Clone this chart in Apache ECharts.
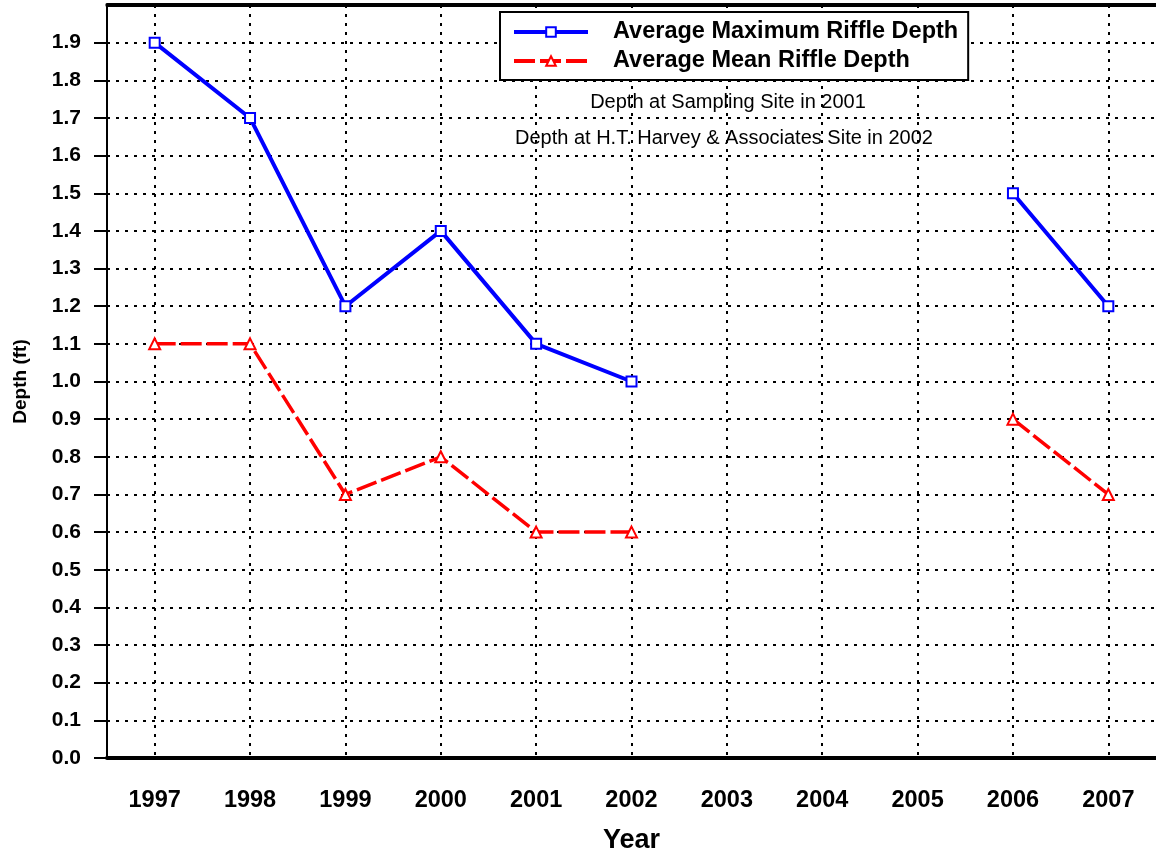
<!DOCTYPE html>
<html>
<head>
<meta charset="utf-8">
<script src="https://cdn.jsdelivr.net/npm/echarts@6/dist/echarts.min.js"></script>
<style>
    html, body { margin: 0; padding: 0; background: #fff; }
</style>
</head>
<body>
<div id="riffle-depth-chart" style="width: 1156px; height: 859px"></div>

<script type="text/javascript">
    // years on the x axis, 2003-2005 have no survey
    let years = ['1997', '1998', '1999', '2000', '2001', '2002', '2003', '2004', '2005', '2006', '2007'];
    let maxDepth = [1.9, 1.7, 1.2, 1.4, 1.1, 1.0, null, null, null, 1.5, 1.2];
    let meanDepth = [1.1, 1.1, 0.7, 0.8, 0.6, 0.6, null, null, null, 0.9, 0.7];
    let seriesNames = ['Average Maximum Riffle Depth', 'Average Mean Riffle Depth'];
    let notes = ['Depth at Sampling Site in 2001', 'Depth at H.T. Harvey & Associates Site in 2002'];

    let font = 'Arial, "Liberation Sans", sans-serif';
    let dotted = { color: '#000', width: 2, type: [3, 6] };

    let dom = document.getElementById('riffle-depth-chart');
    let depthChart = echarts.init(dom);
    let option = {
        animation: false,
        backgroundColor: '#fff',
        grid: {
            left: 107,
            top: 5,
            right: -3,
            bottom: 100
        },
        legend: {
            orient: 'vertical',
            left: 500,
            top: 12,
            padding: [8, 10, 7, 12],
            itemWidth: 74,
            itemHeight: 12,
            itemGap: 5,
            backgroundColor: '#fff',
            borderColor: '#000',
            borderWidth: 2,
            lineStyle: { width: 4 },
            textStyle: {
                fontFamily: font,
                fontWeight: 'bold',
                fontSize: 23.5,
                color: '#000',
                padding: [0, 0, 0, 20]
            },
            data: seriesNames
        },
        graphic: [
            {
                // the 2.0 tick is not drawn in the original
                type: 'rect',
                silent: true,
                shape: { x: 88, y: 0, width: 17.5, height: 9 },
                style: { fill: '#fff' },
                z: 100
            },
            {
                type: 'text',
                x: 728,
                y: 102,
                silent: true,
                style: { text: notes[0], font: '20px ' + font, fill: '#000', align: 'center', verticalAlign: 'middle' }
            },
            {
                type: 'text',
                x: 724,
                y: 138,
                silent: true,
                style: { text: notes[1], font: '20px ' + font, fill: '#000', align: 'center', verticalAlign: 'middle' }
            }
        ],
        xAxis: [
            {
                type: 'category',
                data: years,
                boundaryGap: true,
                name: 'Year',
                nameLocation: 'middle',
                nameGap: 69,
                nameTextStyle: { fontFamily: font, fontWeight: 'bold', fontSize: 27, color: '#000' },
                axisLine: { lineStyle: { color: '#000', width: 4 } },
                axisTick: { alignWithLabel: true, length: 13, lineStyle: { color: '#000', width: 2.5 } },
                axisLabel: { margin: 31, fontFamily: font, fontWeight: 'bold', fontSize: 23.5, color: '#000' },
                splitLine: { show: true, alignWithLabel: true, lineStyle: dotted }
            },
            {
                type: 'category',
                data: years,
                position: 'top',
                axisLine: { lineStyle: { color: '#000', width: 4 } },
                axisTick: { show: false },
                axisLabel: { show: false },
                splitLine: { show: false }
            }
        ],
        yAxis: {
            type: 'value',
            min: 0,
            max: 2.0,
            interval: 0.1,
            name: 'Depth (ft)',
            nameLocation: 'middle',
            nameGap: 77,
            nameTextStyle: { fontFamily: font, fontWeight: 'bold', fontSize: 19, color: '#000' },
            axisLine: { show: true, lineStyle: { color: '#000', width: 2 } },
            axisTick: { show: true, length: 13, lineStyle: { color: '#000', width: 2 } },
            axisLabel: {
                margin: 26,
                fontFamily: font,
                fontWeight: 'bold',
                fontSize: 21,
                color: '#000',
                formatter: function (v) {
                    return v > 1.95 ? '' : v.toFixed(1);
                }
            },
            splitLine: { show: true, lineStyle: dotted }
        },
        series: [
            {
                name: seriesNames[0],
                type: 'line',
                data: maxDepth,
                connectNulls: false,
                symbol: 'emptyRect',
                symbolSize: 10,
                z: 5,
                lineStyle: { color: '#0000ff', width: 4 },
                itemStyle: { color: '#0000ff', borderColor: '#0000ff', borderWidth: 2 }
            },
            {
                name: seriesNames[1],
                type: 'line',
                data: meanDepth,
                connectNulls: false,
                symbol: 'emptyTriangle',
                symbolSize: 11,
                z: 4,
                lineStyle: { color: '#ff0000', width: 3.5, type: [21, 5] },
                itemStyle: { color: '#ff0000', borderColor: '#ff0000', borderWidth: 3 }
            }
        ]
    };

    depthChart.setOption(option);
</script>
</body>
</html>
